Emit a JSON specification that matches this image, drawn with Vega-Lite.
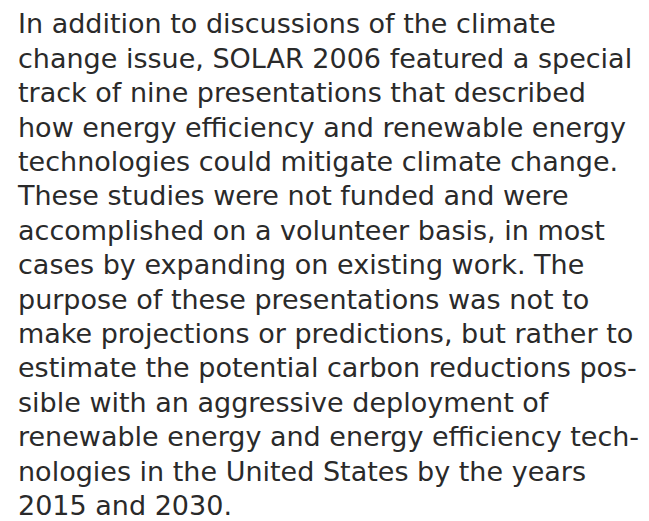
{
  "$schema": "https://vega.github.io/schema/vega-lite/v6.json",
  "width": 649,
  "height": 521,
  "padding": 0,
  "autosize": {"type": "fit", "contains": "padding"},
  "background": "white",
  "config": {"view": {"stroke": null}},
  "data": {"values": [
    {"line": 1, "text": "In addition to discussions of the climate"},
    {"line": 2, "text": "change issue, SOLAR 2006 featured a special"},
    {"line": 3, "text": "track of nine presentations that described"},
    {"line": 4, "text": "how energy efficiency and renewable energy"},
    {"line": 5, "text": "technologies could mitigate climate change."},
    {"line": 6, "text": "These studies were not funded and were"},
    {"line": 7, "text": "accomplished on a volunteer basis, in most"},
    {"line": 8, "text": "cases by expanding on existing work. The"},
    {"line": 9, "text": "purpose of these presentations was not to"},
    {"line": 10, "text": "make projections or predictions, but rather to"},
    {"line": 11, "text": "estimate the potential carbon reductions pos-"},
    {"line": 12, "text": "sible with an aggressive deployment of"},
    {"line": 13, "text": "renewable energy and energy efficiency tech-"},
    {"line": 14, "text": "nologies in the United States by the years"},
    {"line": 15, "text": "2015 and 2030."}
  ]},
  "mark": {"type": "text", "align": "left", "baseline": "alphabetic", "font": "DejaVu Sans", "fontSize": 27, "color": "#2a2a2a"},
  "encoding": {
    "x": {"datum": 0, "type": "quantitative", "scale": {"domain": [-18, 631]}, "axis": null},
    "y": {"field": "line", "type": "quantitative", "scale": {"domain": [0.032, 15.177], "reverse": true, "zero": false, "nice": false}, "axis": null},
    "text": {"field": "text"}
  }
}
